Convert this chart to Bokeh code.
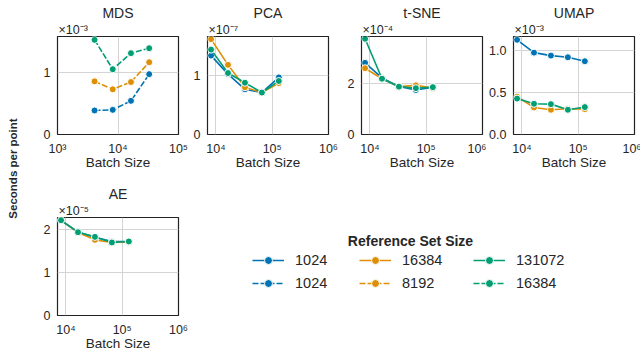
import math
from bokeh.plotting import figure
from bokeh.layouts import row, column
from bokeh.models import (Range1d, FixedTicker, CustomJSTickFormatter, Label,
                          Legend, LegendItem, Title)
from bokeh.embed import file_html
from bokeh.resources import INLINE

# ---------------- data ----------------
batch_mds = [4096, 8192, 16384, 32768]
batch_sizes = [8192, 16384, 32768, 65536, 131072]

ref_solid = ["1024", "16384", "131072"]
ref_dashed = ["1024", "8192", "16384"]

mds_1024 = [0.39e-3, 0.40e-3, 0.546e-3, 0.979e-3]
mds_8192 = [0.862e-3, 0.733e-3, 0.851e-3, 1.172e-3]
mds_16384 = [1.536e-3, 1.059e-3, 1.32e-3, 1.40e-3]

pca_1024 = [1.335e-7, 1.022e-7, 0.765e-7, 0.709e-7, 0.966e-7]
pca_16384 = [1.613e-7, 1.178e-7, 0.799e-7, 0.709e-7, 0.87e-7]
pca_131072 = [1.436e-7, 1.04e-7, 0.876e-7, 0.709e-7, 0.905e-7]

tsne_1024 = [2.80e-4, 2.21e-4, 1.88e-4, 1.74e-4, 1.85e-4]
tsne_16384 = [2.59e-4, 2.18e-4, 1.87e-4, 1.92e-4, 1.82e-4]
tsne_131072 = [3.74e-4, 2.18e-4, 1.87e-4, 1.81e-4, 1.85e-4]

umap_1024 = [1.126e-3, 0.973e-3, 0.938e-3, 0.918e-3, 0.871e-3]
umap_16384 = [0.45e-3, 0.321e-3, 0.294e-3, 0.306e-3, 0.302e-3]
umap_131072 = [0.427e-3, 0.365e-3, 0.361e-3, 0.294e-3, 0.326e-3]

ae_1024 = [2.21e-5, 1.94e-5, 1.82e-5, 1.72e-5, 1.72e-5]
ae_16384 = [2.22e-5, 1.93e-5, 1.76e-5, 1.70e-5, 1.71e-5]
ae_131072 = [2.215e-5, 1.938e-5, 1.829e-5, 1.699e-5, 1.722e-5]

x_ticks_mds = [1e3, 1e4, 1e5]
x_ticks_other = [1e4, 1e5, 1e6]
y_ticks_mds = [0, 1e-3]
y_ticks_pca = [0, 1e-7]
y_ticks_tsne = [0, 2e-4]
y_ticks_umap = [0, 5e-4, 1e-3]
y_ticks_ae = [0, 1e-5, 2e-5]

# ---------------- style ----------------
FONT = "Liberation Sans"
TXT = "#262626"
PALETTE = ["#0173b2", "#de8f05", "#029e73"]
DASH = "6 2"
FW, FH = 121, 98

SUP_CODE = """
const s = {"-": "\u207b", "0": "\u2070", "1": "\u00b9", "2": "\u00b2", "3": "\u00b3",
           "4": "\u2074", "5": "\u2075", "6": "\u2076", "7": "\u2077", "8": "\u2078", "9": "\u2079"};
const e = Math.round(Math.log10(tick));
return "10" + String(e).split("").map(c => s[c]).join("");
"""


def panel(title, xs, series, dashed, xr, xticks, yend, yticks, scale, exp_txt, dec,
          ml, mr, mt, mb):
    p = figure(x_axis_type="log", x_range=Range1d(*xr), y_range=Range1d(0, yend),
               frame_width=FW, frame_height=FH, title=None,
               min_border_left=ml, min_border_right=mr,
               min_border_top=mt, min_border_bottom=mb,
               output_backend="svg", toolbar_location=None,
               x_axis_label="Batch Size")
    p.background_fill_color = "white"
    p.border_fill_color = "white"
    p.outline_line_color = "#222222"
    p.outline_line_width = 1.2

    p.xaxis.ticker = FixedTicker(ticks=xticks)
    p.yaxis.ticker = FixedTicker(ticks=yticks)
    p.xaxis.formatter = CustomJSTickFormatter(code=SUP_CODE)
    p.yaxis.formatter = CustomJSTickFormatter(args=dict(scale=scale, dec=dec),
                                              code="return (tick / scale).toFixed(dec);")
    for ax in (p.xaxis, p.yaxis):
        ax.axis_line_color = None
        ax.major_tick_line_color = None
        ax.minor_tick_line_color = None
        ax.major_tick_out = 0
        ax.major_tick_in = 0
        ax.major_label_text_font = FONT
        ax.major_label_text_font_size = "12.5px"
        ax.major_label_text_color = TXT
    p.xaxis.major_label_standoff = 7
    p.yaxis.major_label_standoff = 7
    p.xaxis.axis_label_standoff = -4
    p.xaxis.axis_label_text_font = FONT
    p.xaxis.axis_label_text_font_size = "13.5px"
    p.xaxis.axis_label_text_font_style = "normal"
    p.xaxis.axis_label_text_color = TXT

    p.xgrid.grid_line_color = "#d4d4d4"
    p.ygrid.grid_line_color = "#d4d4d4"
    p.xgrid.grid_line_width = 1
    p.ygrid.grid_line_width = 1

    for (ys, color) in zip(series, PALETTE):
        kw = dict(line_dash=DASH) if dashed else {}
        p.line(xs, ys, line_color=color, line_width=1.6, **kw)
        p.scatter(xs, ys, size=7, fill_color=color, line_color="white", line_width=1)

    p.add_layout(Title(text=exp_txt, align="left", offset=1, standoff=0,
                       text_font=FONT, text_font_size="12.5px", text_font_style="normal",
                       text_color=TXT), "above")
    p.add_layout(Title(text=title, align="center", standoff=0,
                       text_font=FONT, text_font_size="14px", text_font_style="normal",
                       text_color=TXT), "above")
    return p


XR_OTHER = (10 ** 3.85, 1e6)
TOP_T, TOP_B = 36, 38
BOT_T, BOT_B = 45, 38

p_mds = panel("MDS", batch_mds, [mds_1024, mds_8192, mds_16384], True,
              (1e3, 1e5), x_ticks_mds, 1.59e-3, y_ticks_mds, 1e-3,
              "\u00d710\u207b\u00b3", 0, 27, 12, TOP_T, TOP_B)
p_pca = panel("PCA", batch_sizes, [pca_1024, pca_16384, pca_131072], False,
              XR_OTHER, x_ticks_other, 1.658e-7, y_ticks_pca, 1e-7,
              "\u00d710\u207b\u2077", 0, 17, 12, TOP_T, TOP_B)
p_tsne = panel("t-SNE", batch_sizes, [tsne_1024, tsne_16384, tsne_131072], False,
               XR_OTHER, x_ticks_other, 3.83e-4, y_ticks_tsne, 1e-4,
               "\u00d710\u207b\u2074", 0, 21, 4, TOP_T, TOP_B)
p_umap = panel("UMAP", batch_sizes, [umap_1024, umap_16384, umap_131072], False,
               XR_OTHER, x_ticks_other, 1.165e-3, y_ticks_umap, 1e-3,
               "\u00d710\u207b\u00b3", 1, 26, 7, TOP_T, TOP_B)
p_ae = panel("AE", batch_sizes, [ae_1024, ae_16384, ae_131072], False,
             XR_OTHER, x_ticks_other, 2.28e-5, y_ticks_ae, 1e-5,
             "\u00d710\u207b\u2075", 0, 27, 12, BOT_T, BOT_B)


def blank(w, h, top=0, bottom=0):
    b = figure(frame_width=w, frame_height=h, x_range=Range1d(0, w), y_range=Range1d(0, h),
               min_border_left=0, min_border_right=0, min_border_top=top,
               min_border_bottom=bottom, x_axis_location=None, y_axis_location=None,
               output_backend="svg", toolbar_location=None)
    b.grid.visible = False
    b.outline_line_color = None
    b.background_fill_color = "white"
    b.border_fill_color = "white"
    return b


# y label column (frame from y=36 to bottom)
p_ylab = blank(30, 318, top=36, bottom=0)
p_ylab.add_layout(Label(x=12, y=186, text="Seconds per point", angle=math.pi / 2,
                        text_align="center", text_baseline="middle", text_font=FONT,
                        text_font_size="11.5px", text_font_style="bold", text_color=TXT))

# legend area (frame aligned with the AE frame), one legend per column
p_leg = blank(450, FH, top=BOT_T, bottom=BOT_B)
NAN = float("nan")
col_x = [62, 169, 283]
for i in range(3):
    col_items = []
    for lab, dashed in ((ref_solid[i], False), (ref_dashed[i], True)):
        kw = dict(line_dash=DASH) if dashed else {}
        lr = p_leg.line(x=[NAN], y=[NAN], line_color=PALETTE[i], line_width=1.6, **kw)
        sr = p_leg.scatter(x=[NAN], y=[NAN], size=7, fill_color=PALETTE[i],
                           line_color="white", line_width=1)
        col_items.append(LegendItem(label=lab, renderers=[lr, sr]))
    leg = Legend(items=col_items, location=(col_x[i], 22), orientation="vertical",
                 padding=0, margin=0, spacing=3, glyph_width=32, glyph_height=20,
                 label_standoff=11, label_text_font=FONT, label_text_font_size="14.5px",
                 label_text_color=TXT, border_line_color=None, background_fill_alpha=0)
    p_leg.add_layout(leg)
p_leg.add_layout(Label(x=220, y=75, text="Reference Set Size", text_align="center",
                       text_baseline="middle", text_font=FONT, text_font_size="14px",
                       text_font_style="bold", text_color=TXT))

layout = row(p_ylab, column(row(p_mds, p_pca, p_tsne, p_umap), row(p_ae, p_leg)))

open("out.html", "w").write(file_html(layout, INLINE))
